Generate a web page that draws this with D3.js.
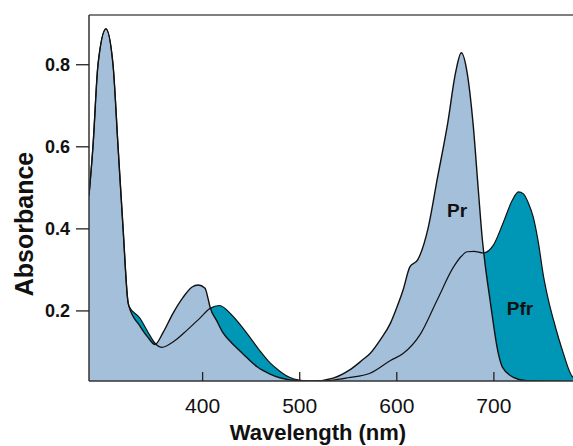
<!DOCTYPE html>
<html>
<head>
<meta charset="utf-8">
<script src="https://cdn.jsdelivr.net/npm/d3@7"></script>
<style>
  body { margin: 0; background: #fff; }
  svg { display: block; font-family: "Liberation Sans", Arial, sans-serif; }
</style>
</head>
<body>
<svg id="chart" width="573" height="446"></svg>
<script>
// Pr (red-absorbing) spectrum
const prWl  = [283.5, 287.6, 292.8, 301, 308.2, 313.4, 318.6, 323.7, 324.7, 336, 344, 351.5, 360, 370, 380.4, 389.7, 395.9, 403, 406.2, 408.2, 415, 421.6, 430, 436, 446, 457, 470, 480, 498, 515, 535, 552, 565, 573, 584, 594, 601, 607, 614, 622, 633, 642, 653, 661, 667, 673, 679, 684.5, 688.7, 690, 697, 705, 709.3, 720.6, 736, 790];
const prAbs = [0.48, 0.60, 0.80, 0.886, 0.80, 0.60, 0.40, 0.22, 0.21, 0.162, 0.135, 0.117, 0.147, 0.193, 0.232, 0.257, 0.262, 0.254, 0.228, 0.208, 0.175, 0.145, 0.122, 0.108, 0.085, 0.062, 0.045, 0.036, 0.029, 0.028, 0.035, 0.055, 0.079, 0.095, 0.13, 0.169, 0.21, 0.25, 0.306, 0.323, 0.403, 0.518, 0.657, 0.779, 0.828, 0.779, 0.657, 0.493, 0.371, 0.342, 0.218, 0.096, 0.062, 0.037, 0.028, 0.027];

// Pfr (far-red-absorbing) spectrum
const pfrWl  = [283.5, 287.6, 292.8, 301, 308.2, 313.4, 318.6, 323.7, 324.7, 336, 344, 351.5, 358.8, 370, 384.5, 398, 408.2, 418, 430, 440, 450, 460, 470, 480, 490, 500, 515, 530, 550, 573, 594, 607, 625, 642, 659, 667, 673, 680, 689.7, 700, 710, 719.6, 725.8, 731, 736, 741, 746, 751.5, 757, 762, 772, 781, 790];
const pfrAbs = [0.48, 0.60, 0.80, 0.886, 0.80, 0.60, 0.40, 0.22, 0.21, 0.181, 0.148, 0.12, 0.110, 0.123, 0.152, 0.182, 0.205, 0.212, 0.19, 0.163, 0.132, 0.10, 0.072, 0.052, 0.037, 0.03, 0.027, 0.029, 0.036, 0.047, 0.078, 0.095, 0.143, 0.225, 0.306, 0.332, 0.343, 0.344, 0.34, 0.359, 0.413, 0.469, 0.489, 0.484, 0.462, 0.428, 0.37, 0.285, 0.222, 0.176, 0.096, 0.04, 0.028];

const xTicks = [400, 500, 600, 700];
const yTicks = [0.2, 0.4, 0.6, 0.8];

const plotLeft = 89, plotRight = 573, plotTop = 15, plotBottom = 381;

const svg = d3.select('#chart');

const x = d3.scaleLinear().domain([283.5, 782]).range([plotLeft, plotRight]);
const y = d3.scaleLinear().domain([0.028, 0.92]).range([plotBottom, plotTop]);

const pr = prWl.map((w, i) => ({w: w, a: prAbs[i]}));
const pfr = pfrWl.map((w, i) => ({w: w, a: pfrAbs[i]}));

svg.append('clipPath').attr('id', 'plot')
  .append('rect').attr('x', plotLeft).attr('y', plotTop)
  .attr('width', plotRight - plotLeft + 20).attr('height', plotBottom - plotTop);

const area = d3.area()
  .x(d => x(d.w))
  .y0(plotBottom)
  .y1(d => y(d.a))
  .curve(d3.curveMonotoneX);

const line = d3.line()
  .x(d => x(d.w))
  .y(d => y(d.a))
  .curve(d3.curveMonotoneX);

const g = svg.append('g').attr('clip-path', 'url(#plot)');

// Pfr underneath in teal, Pr on top in light blue, then both outlines
g.append('path').datum(pfr).attr('d', area).attr('fill', '#0096b6');
g.append('path').datum(pr).attr('d', area).attr('fill', '#a4bfda');
g.append('path').datum(pfr).attr('d', line)
  .attr('fill', 'none').attr('stroke', '#111').attr('stroke-width', 1.2);
g.append('path').datum(pr).attr('d', line)
  .attr('fill', 'none').attr('stroke', '#111').attr('stroke-width', 1.4);

// frame: top line, left and bottom axes
svg.append('line').attr('x1', plotLeft).attr('x2', plotRight).attr('y1', plotTop).attr('y2', plotTop)
  .attr('stroke', '#555').attr('stroke-width', 1.5);
svg.append('line').attr('x1', plotLeft).attr('x2', plotLeft).attr('y1', plotTop).attr('y2', plotBottom)
  .attr('stroke', '#333').attr('stroke-width', 1.5);
svg.append('line').attr('x1', plotLeft).attr('x2', plotRight).attr('y1', plotBottom).attr('y2', plotBottom)
  .attr('stroke', '#333').attr('stroke-width', 1.5);

const xAxis = svg.append('g')
  .attr('transform', `translate(0,${plotBottom})`)
  .call(d3.axisBottom(x).tickValues(xTicks).tickSize(-9).tickPadding(17));
xAxis.select('.domain').remove();
xAxis.selectAll('line').attr('stroke', '#222').attr('stroke-width', 1.3);
xAxis.selectAll('text').attr('font-size', 21).attr('fill', '#111')
  .attr('font-family', '"Liberation Sans", Arial, sans-serif');

const yAxis = svg.append('g')
  .attr('transform', `translate(${plotLeft},0)`)
  .call(d3.axisLeft(y).tickValues(yTicks).tickSize(13).tickPadding(6).tickFormat(d3.format('.1f')));
yAxis.select('.domain').remove();
yAxis.selectAll('line').attr('stroke', '#222').attr('stroke-width', 1.3);
yAxis.selectAll('text').attr('font-size', 18).attr('font-weight', 'bold').attr('fill', '#111')
  .attr('font-family', '"Liberation Sans", Arial, sans-serif');

// axis titles
svg.append('text')
  .attr('transform', 'translate(33,224) rotate(-90)')
  .attr('text-anchor', 'middle')
  .attr('font-size', 25).attr('font-weight', 'bold').attr('fill', '#111')
  .text('Absorbance');

svg.append('text')
  .attr('x', 318).attr('y', 440)
  .attr('text-anchor', 'middle')
  .attr('font-size', 22).attr('font-weight', 'bold').attr('fill', '#111')
  .text('Wavelength (nm)');

// series labels
svg.append('text').attr('x', 457).attr('y', 217).attr('text-anchor', 'middle')
  .attr('font-size', 19).attr('font-weight', 'bold').attr('fill', '#111')
  .text('Pr');
svg.append('text').attr('x', 520).attr('y', 315).attr('text-anchor', 'middle')
  .attr('font-size', 19).attr('font-weight', 'bold').attr('fill', '#111')
  .text('Pfr');
</script>
</body>
</html>
